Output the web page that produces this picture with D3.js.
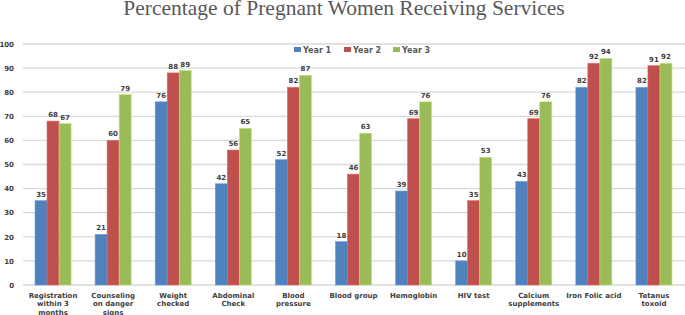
<!DOCTYPE html>
<html>
<head>
<meta charset="utf-8">
<script src="https://cdn.jsdelivr.net/npm/d3@7"></script>
<style>
  body { margin: 0; background: #fff; }
  svg { display: block; }
</style>
</head>
<body>
<div id="chart"></div>
<script>
// data
const categories = [
  ["Registration", "within  3", "months"],
  ["Counseling", "on danger", "signs"],
  ["Weight", "checked"],
  ["Abdominal", "Check"],
  ["Blood", "pressure"],
  ["Blood group"],
  ["Hemoglobin"],
  ["HIV test"],
  ["Calcium", "supplements"],
  ["Iron Folic  acid"],
  ["Tetanus", "toxoid"]
];
const seriesNames = ["Year 1", "Year 2", "Year 3"];
const year1 = [35, 21, 76, 42, 52, 18, 39, 10, 43, 82, 82];
const year2 = [68, 60, 88, 56, 82, 46, 69, 35, 69, 92, 91];
const year3 = [67, 79, 89, 65, 87, 63, 76, 53, 76, 94, 92];
const yTicks = [0, 10, 20, 30, 40, 50, 60, 70, 80, 90, 100];
const chartTitle = "Percentage of Pregnant Women Receiving Services";

const colors = ["#4F81BD", "#C0504D", "#9BBB59"];
const W = 685, H = 315;

const svg = d3.select("#chart").append("svg")
  .attr("width", W).attr("height", H);

const ids = categories.map((c, i) => i);
const x = d3.scaleBand().domain(ids).range([23, 684])
  .paddingInner(0.4).paddingOuter(0.2);
const xs = d3.scaleBand().domain(seriesNames).range([0, x.bandwidth()]);
const y = d3.scaleLinear().domain([0, 100]).range([285, 44]);

// gridlines
svg.append("g")
  .selectAll("line")
  .data(yTicks)
  .join("line")
  .attr("x1", 23).attr("x2", W)
  .attr("y1", d => y(d)).attr("y2", d => y(d))
  .attr("stroke", "#d9d9d9")
  .attr("stroke-width", 1.3);

// y axis labels
svg.append("g")
  .attr("transform", "translate(14,0)")
  .call(d3.axisLeft(y).tickValues(yTicks).tickSize(0).tickPadding(0))
  .call(g => g.select(".domain").remove())
  .selectAll("text")
  .attr("fill", "#404040")
  .style("font-family", "DejaVu Sans")
  .style("font-weight", "bold")
  .style("font-size", "7px");

// bars
const data = [year1, year2, year3];
const groups = svg.append("g").selectAll("g")
  .data(seriesNames)
  .join("g");

groups.each(function (name, si) {
  const g = d3.select(this);
  const vals = data[si];
  g.selectAll("rect")
    .data(vals)
    .join("rect")
    .attr("x", (d, i) => x(i) + xs(name))
    .attr("y", d => y(d))
    .attr("width", xs.bandwidth())
    .attr("height", d => y(0) - y(d))
    .attr("fill", colors[si])
    .attr("stroke", d3.color(colors[si]).brighter(0.6))
    .attr("stroke-width", 0.6);

  g.selectAll("text")
    .data(vals)
    .join("text")
    .attr("x", (d, i) => x(i) + xs(name) + xs.bandwidth() / 2)
    .attr("y", d => y(d) - 4)
    .attr("text-anchor", "middle")
    .attr("fill", "#404040")
    .style("font-family", "DejaVu Sans")
    .style("font-weight", "bold")
    .style("font-size", "7px")
    .text(d => d);
});

// x labels (third lines are partly cut at the bottom, as in the original)
const xl = svg.append("g").selectAll("text")
  .data(categories)
  .join("text")
  .attr("x", (d, i) => x(i) + x.bandwidth() / 2)
  .attr("y", 298)
  .attr("text-anchor", "middle")
  .attr("fill", "#404040")
  .style("font-family", "DejaVu Sans")
  .style("font-weight", "bold")
  .style("font-size", "7px");
xl.each(function (lines, i) {
  d3.select(this).selectAll("tspan")
    .data(lines)
    .join("tspan")
    .attr("x", x(i) + x.bandwidth() / 2)
    .attr("dy", (d, j) => j === 0 ? 0 : 8.3)
    .text(d => d);
});

// title
svg.append("text")
  .attr("x", 344).attr("y", 15)
  .attr("text-anchor", "middle")
  .attr("fill", "#595959")
  .style("font-family", "Liberation Serif")
  .style("font-size", "21.5px")
  .text(chartTitle);

// legend
const legend = svg.append("g").attr("transform", "translate(294,50)");
const lx = [0, 50, 99];
seriesNames.forEach((name, i) => {
  const lg = legend.append("g").attr("transform", `translate(${lx[i]},0)`);
  lg.append("rect").attr("x", 0).attr("y", -3).attr("width", 7).attr("height", 5)
    .attr("fill", colors[i]);
  lg.append("text").attr("x", 9).attr("y", 3)
    .attr("fill", "#595959")
    .style("font-family", "DejaVu Sans")
    .style("font-weight", "bold")
    .style("font-size", "8px")
    .text(name);
});
</script>
</body>
</html>
